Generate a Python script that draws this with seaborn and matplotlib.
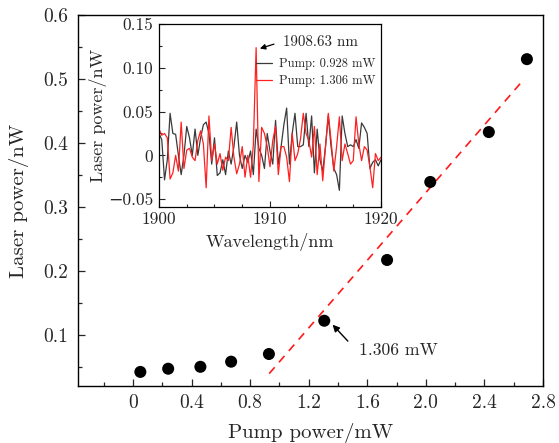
import numpy as np
import pandas as pd
import matplotlib
matplotlib.use("Agg")
import matplotlib.pyplot as plt
import seaborn as sns
from matplotlib.ticker import MultipleLocator, FuncFormatter

# main data: laser output vs pump power
pump_mw = [0.05, 0.24, 0.46, 0.67, 0.928, 1.306, 1.735, 2.03, 2.43, 2.69]
laser_nw = [0.042, 0.047, 0.050, 0.058, 0.070, 0.122, 0.217, 0.339, 0.417, 0.531]

# linear fit (dashed red)
fit_slope = 0.2645
fit_intercept = -0.2066
fit_range = [0.93, 2.66]

# inset spectra
wavelength = np.arange(1900, 1920.01, 0.25)
spec_0928 = [0.025, 0.018, -0.028, -0.005, 0.048, 0.025, 0.024, 0.0, -0.022, 0.0,
             0.033, 0.02, 0.0, 0.03, 0.0, 0.02, 0.035, 0.038, 0.025, -0.01,
             0.02, -0.023, -0.02, -0.005, -0.022, 0.005, -0.01, 0.01, 0.038, 0.0,
             -0.015, 0.0, -0.008, 0.005, -0.022, 0.03, 0.008, 0.0, -0.015, 0.025,
             0.005, -0.01, 0.04, -0.01, 0.01, 0.035, 0.054, -0.01, 0.025, 0.048,
             0.01, 0.01, 0.012, 0.048, 0.01, 0.045, -0.02, 0.03, -0.005, -0.018,
             0.01, 0.045, 0.01, -0.015, -0.022, -0.04, 0.045, 0.025, 0.01, 0.012,
             0.01, 0.018, 0.008, 0.037, 0.032, 0.025, -0.015, -0.008, -0.005, -0.012,
             -0.005]
spec_1306 = [0.03, 0.023, 0.025, 0.02, -0.027, -0.02, 0.0, -0.018, 0.038, -0.015,
             0.006, 0.008, -0.002, -0.006, 0.017, 0.028, 0.013, -0.037, 0.045, -0.006,
             0.013, -0.01, 0.002, -0.017, -0.002, -0.006, 0.032, -0.002, -0.021, -0.01,
             0.01, -0.025, 0.0, -0.025, 0.012, 0.123, -0.03, 0.032, 0.025, 0.01,
             -0.013, 0.017, 0.033, -0.022, 0.01, 0.01, -0.002, -0.03, 0.025, -0.006,
             0.002, 0.019, 0.048, 0.025, 0.017, -0.002, 0.033, -0.022, 0.013, -0.029,
             0.01, 0.048, 0.017, -0.018, 0.01, 0.044, -0.006, 0.013, 0.002, -0.01,
             -0.006, 0.044, 0.013, -0.006, 0.01, 0.006, -0.013, -0.037, 0.002, -0.006,
             -0.002]

sns.set_style("ticks")
plt.rcParams['font.family'] = ['cmr10', 'DejaVu Serif']
plt.rcParams['mathtext.fontset'] = 'cm'
plt.rcParams['axes.formatter.use_mathtext'] = True
plt.rcParams['axes.unicode_minus'] = True

fig = plt.figure(figsize=(5.59, 4.43), dpi=100)
ax = fig.add_axes([0.1395, 0.1287, 0.8319, 0.8374])

df = pd.DataFrame({'pump': pump_mw, 'laser': laser_nw})
sns.scatterplot(data=df, x='pump', y='laser', ax=ax, color='black', s=75,
                edgecolor='none', zorder=3)

fx = np.array(fit_range)
sns.lineplot(x=fx, y=fit_slope * fx + fit_intercept, ax=ax, color='#ff1a1a',
             linewidth=1.2)
ax.lines[-1].set_dashes((5, 4))

ax.set_xlim(-0.376, 2.8)
ax.set_ylim(0.02, 0.6)
ax.set_xticks(np.arange(0, 2.81, 0.4))
ax.xaxis.set_minor_locator(MultipleLocator(0.2))
ax.yaxis.set_major_locator(MultipleLocator(0.1))
ax.yaxis.set_minor_locator(MultipleLocator(0.05))
ax.xaxis.set_major_formatter(FuncFormatter(lambda v, p: '0' if abs(v) < 1e-9 else f'{v:.1f}'))
ax.yaxis.set_major_formatter(FuncFormatter(lambda v, p: f'{v:.1f}'))
ax.tick_params(which='both', direction='in', top=False, right=False, labelsize=14)
ax.tick_params(axis='y', pad=7)
ax.tick_params(axis='x', pad=6)
ax.tick_params(which='major', length=5, width=0.9)
ax.tick_params(which='minor', length=3, width=0.9)
for s in ax.spines.values():
    s.set_linewidth(1.0)
    s.set_color('black')
ax.set_xlabel('Pump power/mW', fontsize=15, labelpad=8)
ax.set_ylabel('Laser power/nW', fontsize=15, labelpad=10)

ax.annotate('', xy=(1.35, 0.119), xytext=(1.48, 0.087),
            arrowprops=dict(arrowstyle='-|>', color='black', lw=1.0,
                            mutation_scale=10))
ax.text(1.545, 0.075, '1.306 mW', fontsize=12.7, ha='left', va='center')

# inset
ins = fig.add_axes([0.2844, 0.5327, 0.3972, 0.4131])
sdf = pd.DataFrame({'wl': wavelength, 'a': spec_0928, 'b': spec_1306})
sns.lineplot(data=sdf, x='wl', y='a', ax=ins, color='#3a3a3a', linewidth=0.9,
             label='Pump: 0.928 mW')
sns.lineplot(data=sdf, x='wl', y='b', ax=ins, color='#ff2020', linewidth=0.9,
             label='Pump: 1.306 mW')
ins.set_xlim(1900, 1920)
ins.set_ylim(-0.059, 0.15)
ins.xaxis.set_major_locator(MultipleLocator(10))
ins.xaxis.set_minor_locator(MultipleLocator(2.5))
ins.yaxis.set_major_locator(MultipleLocator(0.05))
ins.yaxis.set_minor_locator(MultipleLocator(0.025))
ins.yaxis.set_major_formatter(FuncFormatter(
    lambda v, p: '0' if abs(v) < 1e-9 else ('\u2212' if v < 0 else '') + f'{abs(v):.2f}'))
ins.xaxis.set_major_formatter(FuncFormatter(lambda v, p: f'{v:.0f}'))
ins.tick_params(which='both', direction='in', top=False, right=False, labelsize=12.5)
ins.tick_params(axis='y', pad=4)
ins.tick_params(axis='x', pad=3)
ins.tick_params(which='major', length=4, width=0.8)
ins.tick_params(which='minor', length=2.5, width=0.8)
for s in ins.spines.values():
    s.set_linewidth(0.9)
    s.set_color('black')
ins.set_xlabel('Wavelength/nm', fontsize=13, labelpad=5)
ins.set_ylabel('Laser power/nW', fontsize=13, labelpad=1)
ins.legend(loc='upper left', bbox_to_anchor=(0.435, 0.815), frameon=False,
           borderpad=0, borderaxespad=0, fontsize=9, handlelength=1.35,
           handletextpad=0.55, labelspacing=0.4)
ins.annotate('', xy=(1908.85, 0.121), xytext=(1910.6, 0.128),
             arrowprops=dict(arrowstyle='-|>', color='black', lw=0.9,
                             mutation_scale=8))
ins.text(1911.2, 0.129, '1908.63 nm', fontsize=10.8, ha='left', va='center')

fig.savefig('out.png', dpi=100)
